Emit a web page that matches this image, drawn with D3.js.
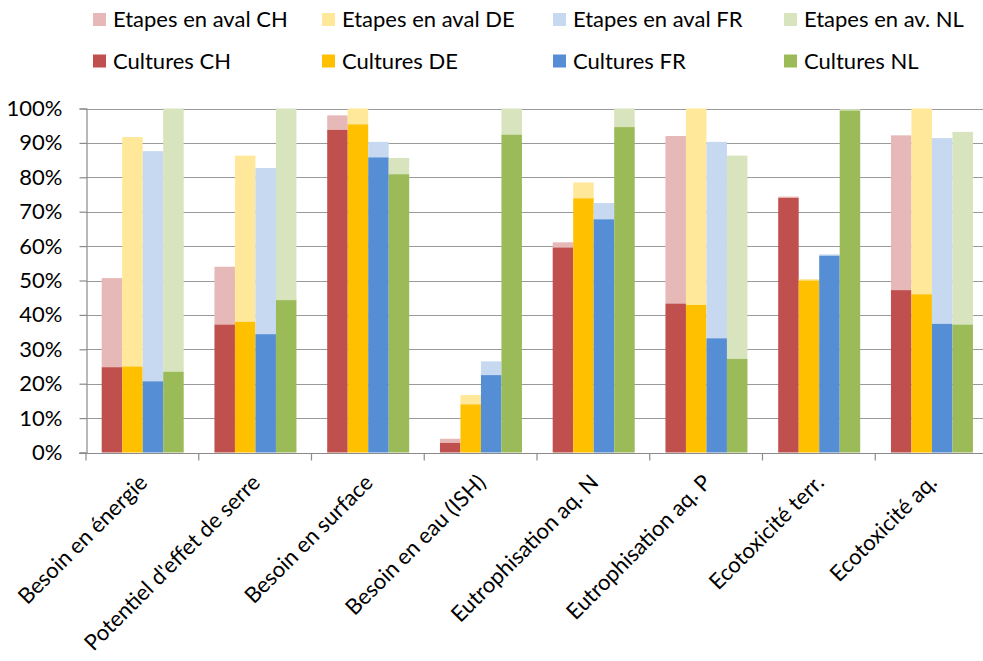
<!DOCTYPE html>
<html><head><meta charset="utf-8">
<script src="https://cdn.jsdelivr.net/npm/d3@7"></script>
<style>body{margin:0;background:#fff}svg{display:block}text{font-family:Lato,sans-serif;fill:#000}</style>
</head><body><svg id="c" width="983" height="661"></svg>
<script>
const categories = ["Besoin en énergie","Potentiel d'effet de serre","Besoin en surface","Besoin en eau (ISH)","Eutrophisation aq. N","Eutrophisation aq. P","Ecotoxicité terr.","Ecotoxicité aq."];
const countries = ["CH","DE","FR","NL"];
// Cultures share (bottom) per country, per category
const culturesCH = [0.248,0.372,0.938,0.028,0.596,0.433,0.740,0.472];
const culturesDE = [0.250,0.380,0.954,0.140,0.739,0.429,0.500,0.460];
const culturesFR = [0.207,0.344,0.858,0.225,0.678,0.332,0.572,0.374];
const culturesNL = [0.235,0.443,0.809,0.924,0.946,0.272,0.994,0.372];
// Totals (Cultures + Etapes en aval)
const totalCH = [0.507,0.540,0.980,0.040,0.611,0.920,0.744,0.922];
const totalDE = [0.917,0.863,1.000,0.167,0.785,1.000,0.504,1.000];
const totalFR = [0.876,0.827,0.903,0.265,0.725,0.903,0.576,0.914];
const totalNL = [1.000,1.000,0.856,1.000,1.000,0.863,0.998,0.932];
const yTicks = [0,0.1,0.2,0.3,0.4,0.5,0.6,0.7,0.8,0.9,1.0];
const legendTop = ["Etapes en aval CH","Etapes en aval DE","Etapes en aval FR","Etapes en av. NL"];
const legendBottom = ["Cultures CH","Cultures DE","Cultures FR","Cultures NL"];

const darkColors = {CH:"#C0504D",DE:"#FFC000",FR:"#558ED5",NL:"#9BBB59"};
const lightColors = {CH:"#E6B9B8",DE:"#FFE899",FR:"#C6D9F1",NL:"#D7E4BD"};
const cultures = {CH:culturesCH,DE:culturesDE,FR:culturesFR,NL:culturesNL};
const totals = {CH:totalCH,DE:totalDE,FR:totalFR,NL:totalNL};
const FS = "22px";

const svg = d3.select("#c");
const x = d3.scaleBand().domain(categories).range([86, 988]);
const xi = d3.scaleBand().domain(countries).range([15.7, 15.7+82]);
const y = d3.scaleLinear().domain([0,1]).range([452.5, 108.5]);

// gridlines
svg.append("g").selectAll("line").data(yTicks.slice(1)).join("line")
  .attr("x1",86).attr("x2",990).attr("y1",d=>Math.round(y(d))+0.5).attr("y2",d=>Math.round(y(d))+0.5)
  .attr("stroke","#9a9a9a").attr("stroke-width",1.2);

// bars
const g = svg.append("g");
categories.forEach((c,i)=>{
  countries.forEach(k=>{
    const bx = x(c)+xi(k), bw = xi.bandwidth();
    const cv = cultures[k][i], tv = totals[k][i];
    g.append("rect").attr("x",bx).attr("width",bw)
      .attr("y",y(tv)).attr("height",y(cv)-y(tv)).attr("fill",lightColors[k]);
    g.append("rect").attr("x",bx).attr("width",bw)
      .attr("y",y(cv)).attr("height",y(0)-y(cv)).attr("fill",darkColors[k]);
  });
});

// y axis
const ya = svg.append("g").attr("transform","translate(86.5,0)")
  .call(d3.axisLeft(y).tickValues(yTicks).tickFormat(d3.format(".0%")).tickSize(7).tickPadding(17));
ya.select(".domain").attr("stroke","#8a8a8a").attr("stroke-width",1.2);
ya.selectAll(".tick line").attr("stroke","#8a8a8a").attr("stroke-width",1.2);
ya.selectAll("text").style("font-size",FS).attr("fill","#000").style("font-family","Lato,sans-serif");

// x axis
const xa = svg.append("g").attr("transform",`translate(0,${Math.round(y(0))+0.5})`);
xa.append("line").attr("x1",79).attr("x2",990).attr("stroke","#8a8a8a").attr("stroke-width",1.2);
xa.selectAll("line.t").data(d3.range(categories.length+1)).join("line").attr("class","t")
  .attr("x1",d=>86+d*x.step()).attr("x2",d=>86+d*x.step()).attr("y1",0).attr("y2",7)
  .attr("stroke","#8a8a8a").attr("stroke-width",1.2);
xa.selectAll("text").data(categories).join("text")
  .attr("transform",d=>`translate(${x(d)+x.bandwidth()/2+1},25) rotate(-45)`)
  .attr("text-anchor","end").attr("dy","0.35em")
  .style("font-size",FS).text(d=>d);

// legend
const lg = svg.append("g");
const colX = [93,322,553,784];
legendTop.forEach((t,i)=>{
  lg.append("rect").attr("x",colX[i]).attr("y",13).attr("width",13).attr("height",13).attr("fill",lightColors[countries[i]]);
  lg.append("text").attr("x",colX[i]+20).attr("y",27).style("font-size",FS).text(t);
});
legendBottom.forEach((t,i)=>{
  lg.append("rect").attr("x",colX[i]).attr("y",54.5).attr("width",13).attr("height",13).attr("fill",darkColors[countries[i]]);
  lg.append("text").attr("x",colX[i]+20).attr("y",68.5).style("font-size",FS).text(t);
});
</script></body></html>
